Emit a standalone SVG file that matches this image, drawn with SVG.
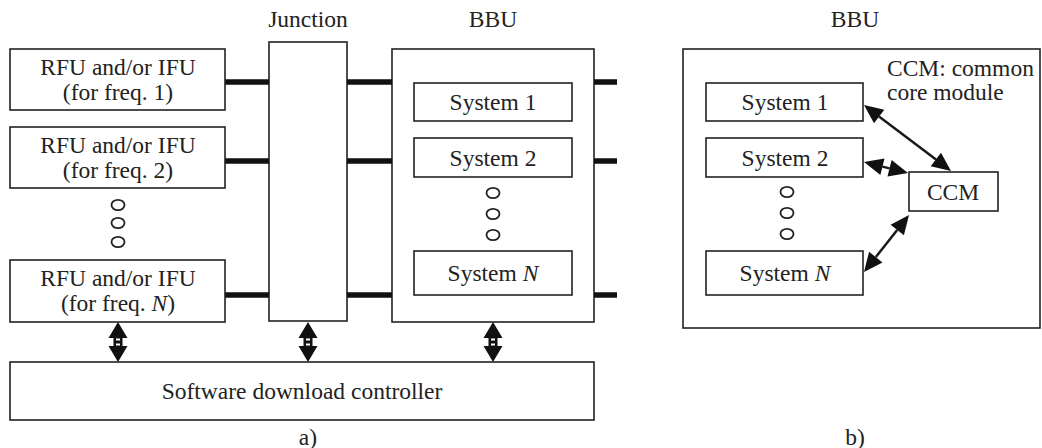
<svg xmlns="http://www.w3.org/2000/svg" width="1042" height="448" viewBox="0 0 1042 448">
<defs>
<style>
.box{fill:#fff;stroke:#222;stroke-width:1.6}
.t{font-family:"Liberation Serif","Times New Roman",serif;font-size:23.5px;fill:#222;text-anchor:middle}
.ts{font-family:"Liberation Serif","Times New Roman",serif;font-size:23.5px;fill:#222}
.bus{stroke:#111;stroke-width:5.5;fill:none}
.dot{fill:none;stroke:#222;stroke-width:1.8}
.ln{stroke:#1a1a1a;stroke-width:2.5;fill:none}
.hd{fill:#111;stroke:none}
</style>
<g id="darr">
<path d="M0,0 L-9.5,16 L9.5,16 Z M0,40 L-9.5,24 L9.5,24 Z" fill="#111"/>
<rect x="-4.5" y="14" width="9" height="12" fill="#111"/>
<rect x="-2" y="16.5" width="4" height="2" fill="#fff"/>
<rect x="-2" y="21.5" width="4" height="2" fill="#fff"/>
</g>
</defs>
<rect width="1042" height="448" fill="#fff"/>

<g id="junction"><text class="t" x="308" y="27">Junction</text><rect class="box" x="269" y="42" width="78" height="279"/></g>
<g id="bbu-a"><text class="t" x="493" y="27">BBU</text><rect class="box" x="392" y="49" width="202" height="273"/></g>
<g id="bbu-b"><text class="t" x="855" y="27">BBU</text><rect class="box" x="683" y="49" width="357" height="279"/></g>

<g id="connectors">
<path class="bus" d="M225,82 H269 M225,161 H269 M225,295 H269 M347,82 H392 M347,161 H392 M347,295 H392 M594,82 H617 M594,161 H617 M594,295 H617"/>
<use href="#darr" x="118" y="322"/>
<use href="#darr" x="308" y="322"/>
<use href="#darr" x="493" y="322"/>
<g id="arr-s1-ccm">
<line class="ln" x1="879" y1="116.5" x2="936" y2="159.5"/>
<polygon class="hd" points="951,171 930.7,166.3 941,152.8"/>
<polygon class="hd" points="864,105 874,123.3 884.3,109.7"/>
</g>
<g id="arr-s2-ccm">
<line class="ln" x1="882.4" y1="166.6" x2="889.6" y2="168.4"/>
<polygon class="hd" points="908,173 887.5,176.6 891.6,160.1"/>
<polygon class="hd" points="864,162 880.4,174.9 884.5,158.4"/>
</g>
<g id="arr-sN-ccm">
<line class="ln" x1="875.8" y1="257.1" x2="897.2" y2="229.9"/>
<polygon class="hd" points="909,215 903.9,235.2 890.6,224.7"/>
<polygon class="hd" points="864,272 882.5,262.4 869.1,251.8"/>
</g>
</g>

<g id="rfu1"><rect class="box" x="10" y="49" width="215" height="61"/><text class="t" x="118" y="75">RFU and/or IFU</text><text class="t" x="118" y="100">(for freq. 1)</text></g>
<g id="rfu2"><rect class="box" x="10" y="127" width="215" height="61"/><text class="t" x="118" y="153">RFU and/or IFU</text><text class="t" x="118" y="178">(for freq. 2)</text></g>
<g id="rfuN"><rect class="box" x="10" y="260" width="215" height="62"/><text class="t" x="118" y="286">RFU and/or IFU</text><text class="t" x="118" y="311">(for freq. <tspan font-style="italic">N</tspan>)</text></g>
<g id="dots-a1"><ellipse class="dot" cx="118" cy="205" rx="6.5" ry="5.2"/><ellipse class="dot" cx="118" cy="223" rx="6.5" ry="5.2"/><ellipse class="dot" cx="118" cy="242" rx="6.5" ry="5.2"/></g>

<g id="sys1-a"><rect class="box" x="414" y="83" width="158" height="38"/><text class="t" x="493" y="110">System 1</text></g>
<g id="sys2-a"><rect class="box" x="414" y="138" width="158" height="39"/><text class="t" x="493" y="166">System 2</text></g>
<g id="dots-a2"><ellipse class="dot" cx="493" cy="193" rx="6.5" ry="5.2"/><ellipse class="dot" cx="493" cy="214" rx="6.5" ry="5.2"/><ellipse class="dot" cx="493" cy="235" rx="6.5" ry="5.2"/></g>
<g id="sysN-a"><rect class="box" x="414" y="251" width="158" height="44"/><text class="t" x="493" y="281">System <tspan font-style="italic">N</tspan></text></g>

<g id="controller"><rect class="box" x="10" y="362" width="584" height="58"/><text class="t" x="302" y="399">Software download controller</text></g>
<text class="t" x="308" y="445">a)</text>

<g id="ccm-note"><text class="ts" x="887" y="76">CCM: common</text><text class="ts" x="887" y="100">core module</text></g>
<g id="sys1-b"><rect class="box" x="706" y="83" width="157" height="38"/><text class="t" x="785" y="110">System 1</text></g>
<g id="sys2-b"><rect class="box" x="706" y="138" width="157" height="39"/><text class="t" x="785" y="166">System 2</text></g>
<g id="dots-b"><ellipse class="dot" cx="787" cy="192" rx="6.5" ry="5.2"/><ellipse class="dot" cx="787" cy="213" rx="6.5" ry="5.2"/><ellipse class="dot" cx="787" cy="234" rx="6.5" ry="5.2"/></g>
<g id="sysN-b"><rect class="box" x="706" y="251" width="157" height="44"/><text class="t" x="785" y="281">System <tspan font-style="italic">N</tspan></text></g>
<g id="ccm"><rect class="box" x="909" y="172" width="89" height="39"/><text class="t" x="953" y="200">CCM</text></g>
<text class="t" x="855" y="445">b)</text>
</svg>
